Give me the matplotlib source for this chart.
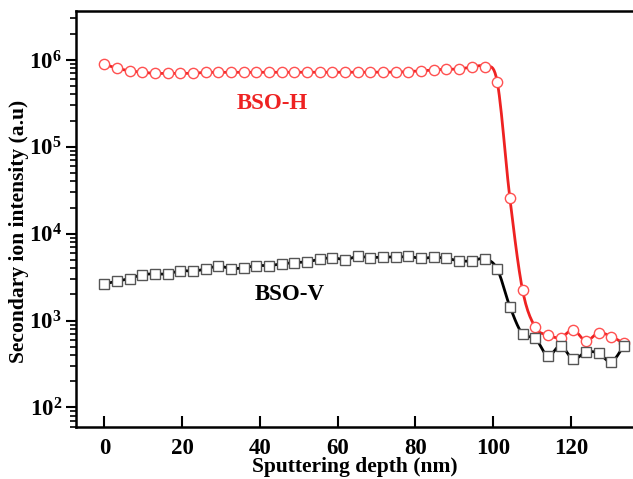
import numpy as np
import matplotlib
matplotlib.use("Agg")
import matplotlib.pyplot as plt
from matplotlib.ticker import LogLocator, FixedLocator, NullFormatter

plt.rcParams['font.family'] = ['Liberation Serif', 'DejaVu Serif']
plt.rcParams['font.weight'] = 'bold'
plt.rcParams['mathtext.fontset'] = 'custom'
plt.rcParams['mathtext.rm'] = 'Liberation Serif:bold'
plt.rcParams['mathtext.bf'] = 'Liberation Serif:bold'

step = 3.26
depth = [round(i * step, 2) for i in range(42)]

bso_h = [8.9e5, 8.0e5, 7.5e5, 7.2e5, 7.0e5, 7.0e5, 7.0e5, 7.0e5,
         7.2e5, 7.2e5, 7.2e5, 7.2e5, 7.2e5, 7.2e5, 7.2e5, 7.2e5,
         7.2e5, 7.2e5, 7.2e5, 7.2e5, 7.22e5, 7.22e5, 7.22e5, 7.22e5,
         7.35e5, 7.47e5, 7.68e5, 7.8e5, 7.88e5, 8.24e5, 8.37e5, 5.63e5,
         2.57e4, 2.25e3, 840, 680, 637, 781, 584, 721, 655, 545]

bso_v = [2640, 2840, 3040, 3380, 3440, 3440, 3760, 3700, 3930, 4230,
         3970, 4040, 4290, 4290, 4490, 4650, 4730, 5090, 5280, 5040,
         5460, 5300, 5400, 5350, 5460, 5200, 5350, 5200, 4860, 4860,
         5140, 3930, 1450, 697, 627, 392, 512, 360, 433, 422, 335, 510]

x_ticks = [0, 20, 40, 60, 80, 100, 120]
y_ticks = [1e2, 1e3, 1e4, 1e5, 1e6]
y_ticklabels = [r'$\mathbf{10^{%d}}$' % e for e in [2, 3, 4, 5, 6]]


def smooth(x, y, n=12):
    """Catmull-Rom curve through the points, in log space (for drawing the line)."""
    x = np.asarray(x, float)
    ly = np.log10(np.asarray(y, float))
    P = np.column_stack([x, ly])
    P = np.vstack([2 * P[0] - P[1], P, 2 * P[-1] - P[-2]])
    out = []
    t = np.linspace(0, 1, n, endpoint=False)[:, None]
    for i in range(1, len(P) - 2):
        p0, p1, p2, p3 = P[i - 1], P[i], P[i + 1], P[i + 2]
        seg = 0.5 * ((2 * p1) + (-p0 + p2) * t + (2 * p0 - 5 * p1 + 4 * p2 - p3) * t ** 2
                     + (-p0 + 3 * p1 - 3 * p2 + p3) * t ** 3)
        out.append(seg)
    out.append(P[-2][None, :])
    out = np.vstack(out)
    return out[:, 0], 10 ** out[:, 1]


fig = plt.figure(figsize=(6.33, 4.79), dpi=100)
ax = fig.add_axes([0.1196, 0.1092, 0.8804, 0.8688])

red = '#ee2222'
sx, sy = smooth(depth, bso_h)
ax.plot(sx, sy, color=red, lw=2.0, zorder=2)
ax.plot(depth, bso_h, ls='none', marker='o', ms=7.4, mfc='white', mec='#ff5050', mew=1.0, zorder=3)

bx, by = smooth(depth, bso_v)
ax.plot(bx, by, color='black', lw=2.0, zorder=2)
ax.plot(depth, bso_v, ls='none', marker='s', ms=6.6, mfc='white', mec='#555555', mew=1.0, zorder=3)

ax.set_yscale('log')
ax.set_xlim(-7.36, 136.0)
ax.set_ylim(60, 3.7e6)

ax.set_xticks(x_ticks)
ax.set_xticklabels([str(v) for v in x_ticks], fontsize=16.5, fontweight='bold')
ax.yaxis.set_major_locator(FixedLocator(y_ticks))
ax.set_yticklabels(y_ticklabels, fontsize=16.5)
ax.yaxis.set_minor_locator(LogLocator(base=10, subs=np.arange(2, 10), numticks=20))
ax.yaxis.set_minor_formatter(NullFormatter())

ax.tick_params(axis='x', direction='in', length=8, width=1.5, pad=8, top=False)
ax.tick_params(axis='y', which='major', direction='out', length=7, width=1.5, pad=3, right=False)
ax.tick_params(axis='y', which='minor', direction='out', length=4, width=1.2, right=False)

for s in ['left', 'bottom', 'top']:
    ax.spines[s].set_linewidth(1.8)
ax.spines['right'].set_visible(False)

ax.set_xlabel('Sputtering depth (nm)', fontsize=15.5, fontweight='bold')
ax.xaxis.set_label_coords(0.50, -0.074)
ax.set_ylabel('Secondary ion intensity (a.u)', fontsize=15.5, fontweight='bold')
ax.yaxis.set_label_coords(-0.083, 0.47)

ax.text(43.1, 3.18e5, 'BSO-H', color=red, fontsize=16.5, fontweight='bold', ha='center', va='center')
ax.text(47.8, 1.98e3, 'BSO-V', color='black', fontsize=16.5, fontweight='bold', ha='center', va='center')

fig.savefig('out.png', dpi=100)
